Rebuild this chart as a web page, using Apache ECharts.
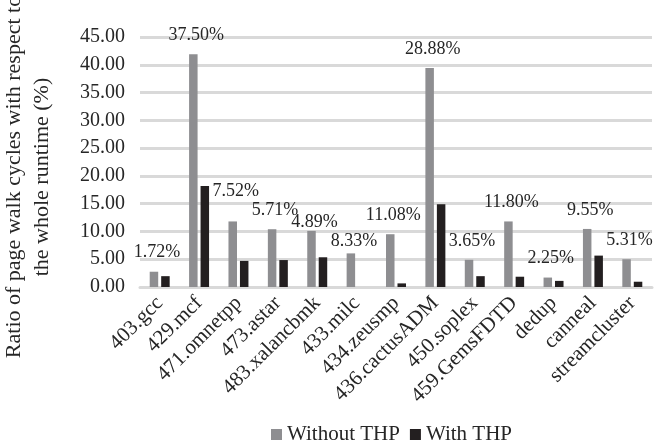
<!DOCTYPE html>
<html>
<head>
<meta charset="utf-8">
<script src="https://cdn.jsdelivr.net/npm/echarts@6/dist/echarts.min.js"></script>
<style>
  html, body { margin: 0; padding: 0; background: #fff; }
  #chart { width: 654px; height: 442px; }
</style>
</head>
<body>
<div id="chart"></div>
<script>
// Benchmarks
const categories = ['403.gcc', '429.mcf', '471.omnetpp', '473.astar', '483.xalancbmk', '433.milc',
  '434.zeusmp', '436.cactusADM', '450.soplex', '459.GemsFDTD', 'dedup', 'canneal', 'streamcluster'];

// Page walk cycles as a share of total runtime (%)
const withoutTHP = [2.75, 41.9, 11.8, 10.4, 10.1, 6.05, 9.5, 39.4, 4.9, 11.8, 1.7, 10.45, 5.0];
const withTHP = [1.95, 18.2, 4.7, 4.85, 5.35, 0.0, 0.65, 14.9, 1.95, 1.85, 1.1, 5.65, 0.95];

// Annotation percentages printed above each benchmark
const annotations = [1.72, 37.50, 7.52, 5.71, 4.89, 8.33, 11.08, 28.88, 3.65, 11.80, 2.25, 9.55, 5.31];

// Y axis ticks
const yTicks = [0, 5, 10, 15, 20, 25, 30, 35, 40, 45];

const FONT = 'Liberation Serif';
const TEXT = '#262626';

// a few annotations sit higher or lower than the rest to keep clear of neighbours
const labelShift = { 2: -11, 4: 10, 5: 7 };

const chart = echarts.init(document.getElementById('chart'), null, { renderer: 'canvas' });

chart.setOption({
  animation: false,
  backgroundColor: '#fff',
  textStyle: { fontFamily: FONT, color: TEXT },
  grid: { left: 140, right: 2, top: 37, bottom: 155, containLabel: false },
  legend: {
    top: 419,
    left: 266,
    itemWidth: 11,
    itemHeight: 11,
    itemGap: 10,
    icon: 'rect',
    textStyle: { fontFamily: FONT, fontSize: 21, color: TEXT, padding: [0, 0, 0, 0] },
    data: ['Without THP', 'With THP']
  },
  xAxis: {
    type: 'category',
    data: categories,
    axisTick: { show: false },
    axisLine: { lineStyle: { color: '#d9d9d9', width: 3 } },
    axisLabel: {
      interval: 0,
      rotate: 45,
      margin: 13,
      fontFamily: FONT,
      fontSize: 21,
      color: TEXT
    }
  },
  yAxis: {
    type: 'value',
    min: yTicks[0],
    max: yTicks[yTicks.length - 1],
    interval: yTicks[1] - yTicks[0],
    axisLine: { show: false },
    axisTick: { show: false },
    splitLine: { lineStyle: { color: '#d9d9d9', width: 3 } },
    axisLabel: {
      margin: 15,
      fontFamily: FONT,
      fontSize: 20,
      color: TEXT,
      formatter: v => v.toFixed(2)
    }
  },
  graphic: [
    {
      type: 'text',
      x: 28,
      y: 177,
      rotation: Math.PI / 2,
      style: {
        text: 'Ratio of page walk cycles with respect to\nthe whole runtime (%)',
        font: '22px "Liberation Serif"',
        fill: TEXT,
        align: 'center',
        verticalAlign: 'middle',
        lineHeight: 28
      }
    }
  ],
  series: [
    {
      name: 'Without THP',
      type: 'bar',
      barWidth: 8.5,
      barGap: '35%',
      itemStyle: { color: '#8e8e91' },
      data: withoutTHP.map((v, i) => ({
        value: v,
        label: {
          show: true,
          position: 'top',
          distance: 10,
          offset: [3, labelShift[i] || 0],
          formatter: annotations[i].toFixed(2) + '%',
          fontFamily: FONT,
          fontSize: 18,
          color: TEXT
        }
      }))
    },
    {
      name: 'With THP',
      type: 'bar',
      barWidth: 8.5,
      itemStyle: { color: '#231f20' },
      data: withTHP
    }
  ]
});
</script>
</body>
</html>
